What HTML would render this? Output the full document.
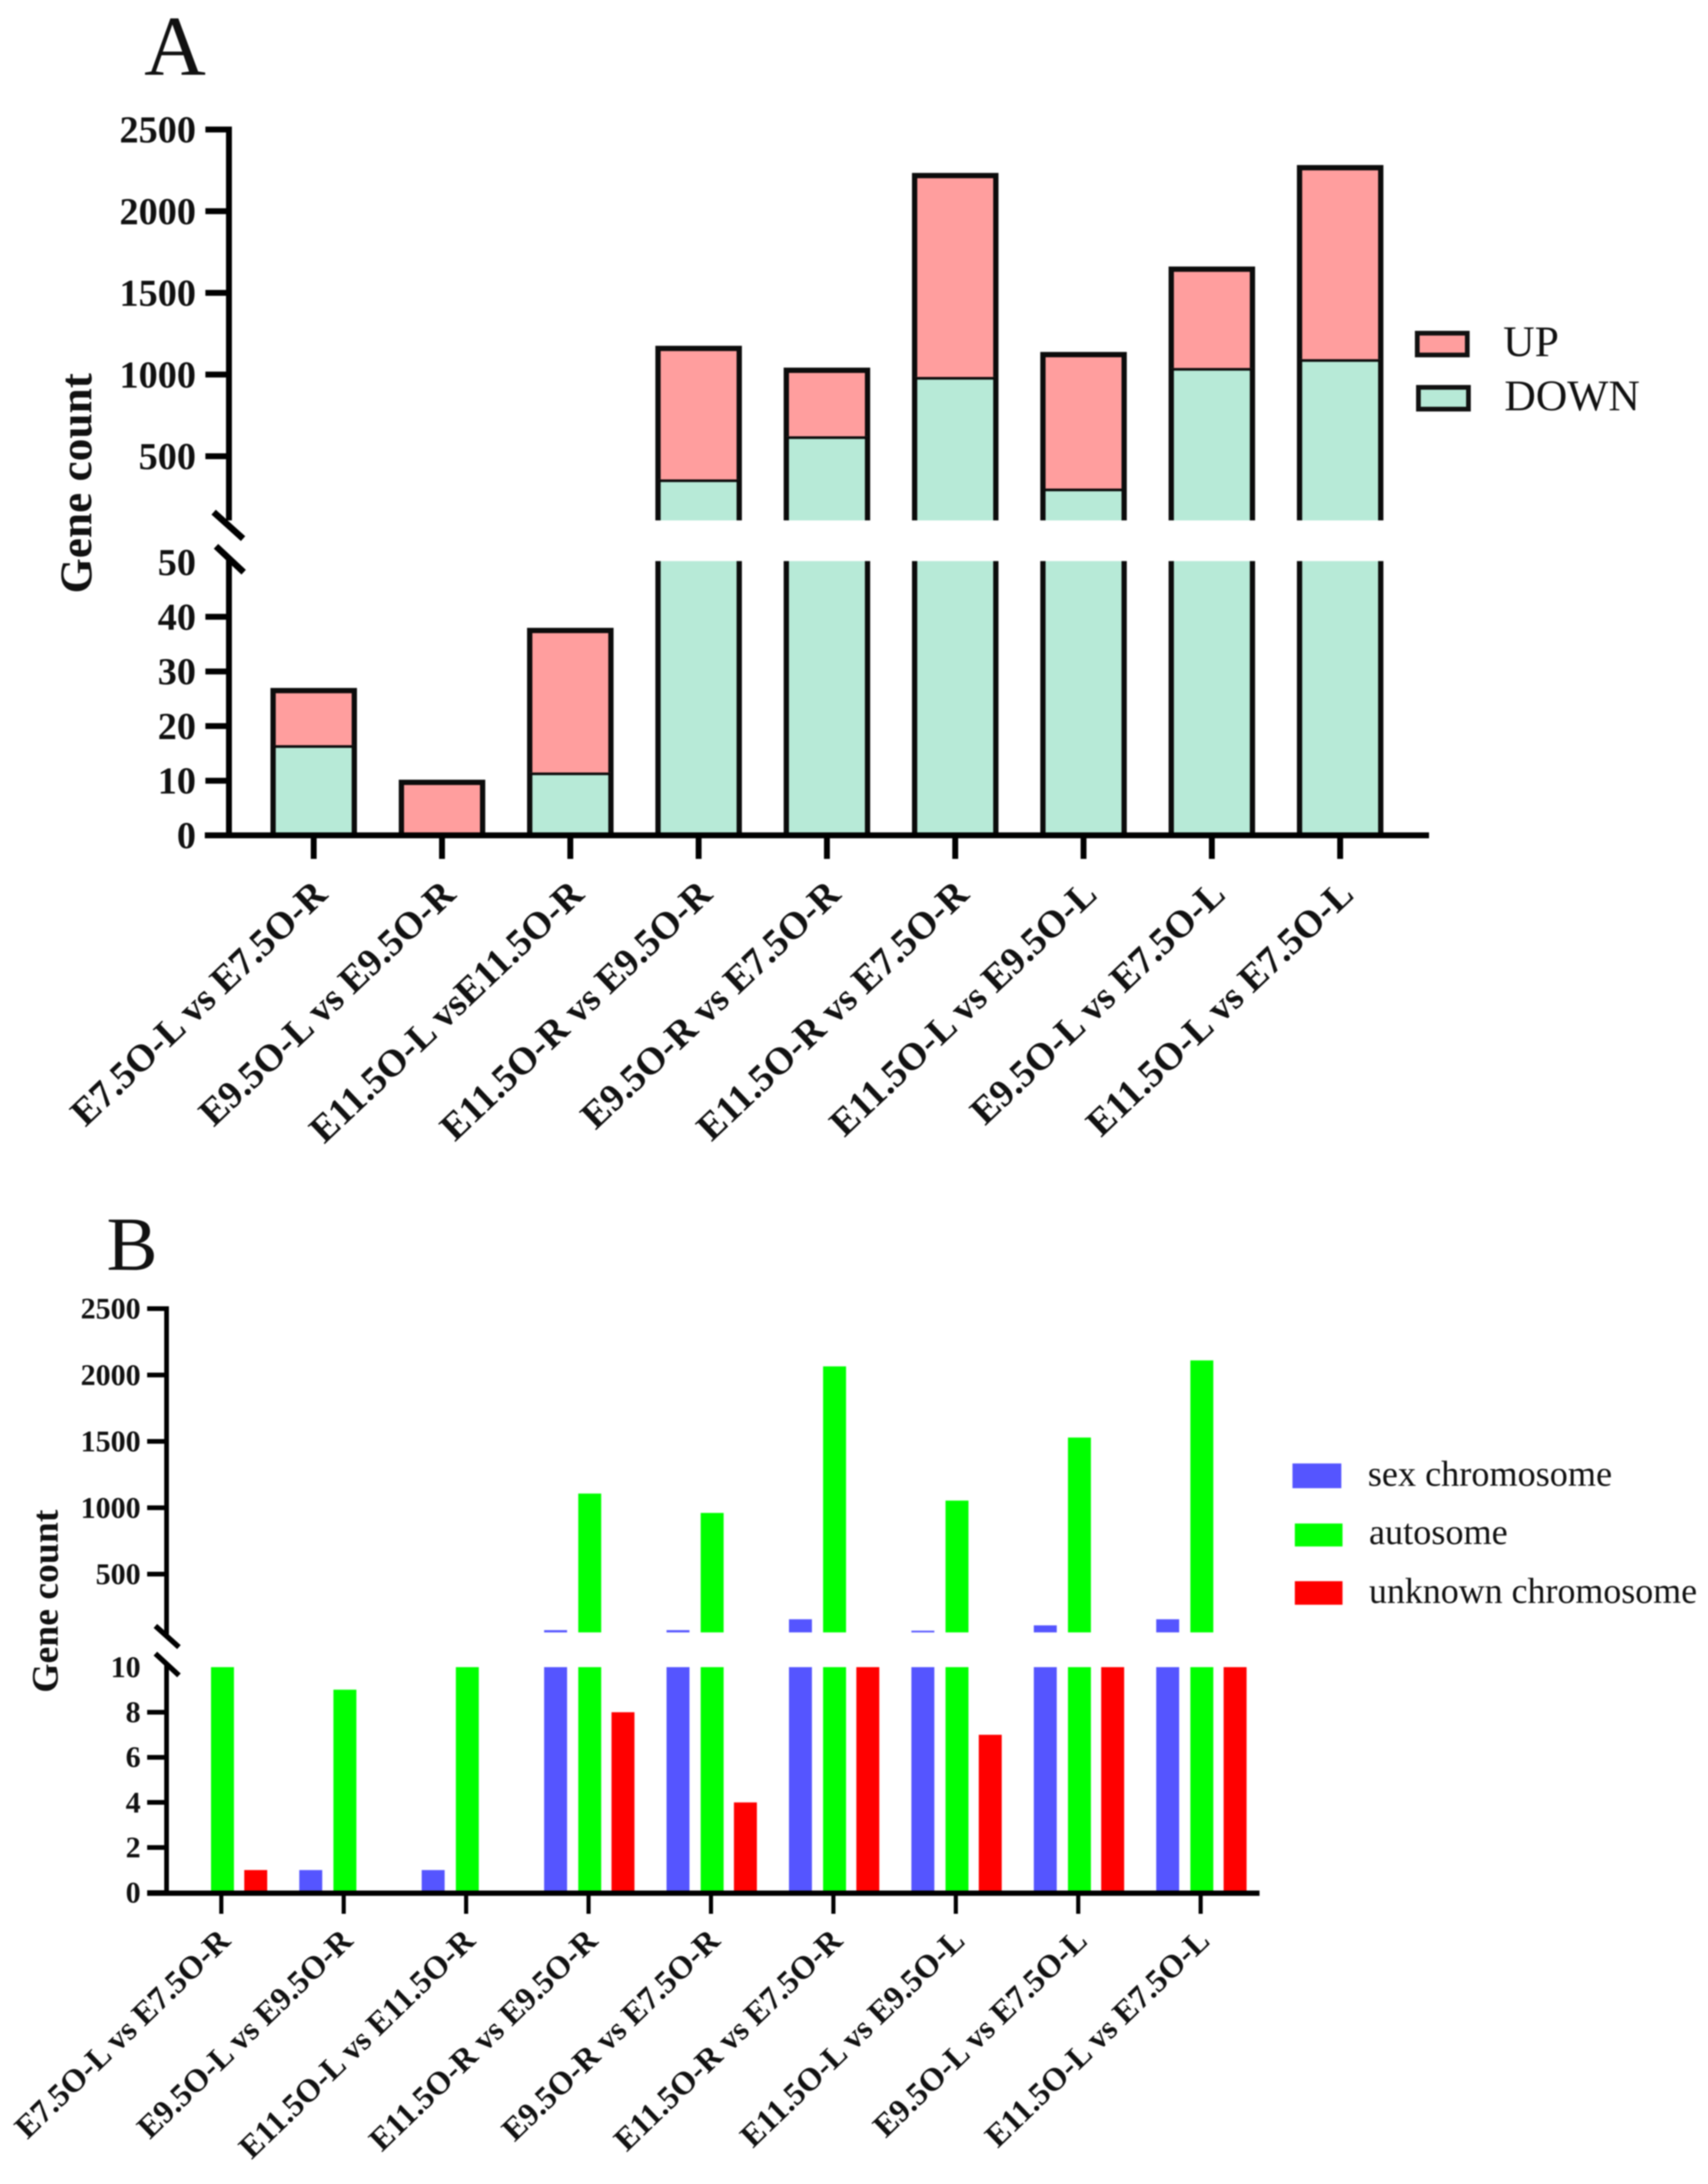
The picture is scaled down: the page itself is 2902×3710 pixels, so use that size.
<!DOCTYPE html>
<html>
<head>
<meta charset="utf-8">
<title>Gene count charts</title>
<style>
html,body{margin:0;padding:0;background:#fff;}
svg{display:block;filter:blur(1px);}
text{font-family:"Liberation Serif",serif;fill:#111;}
</style>
</head>
<body>
<svg id="fig" xmlns="http://www.w3.org/2000/svg" width="2902" height="3710" viewBox="0 0 2902 3710">
<rect width="2902" height="3710" fill="#fff"/>
<text x="245" y="127" font-size="145">A</text>
<text x="181" y="2157" font-size="130">B</text>
<text transform="translate(155 821) rotate(-90)" text-anchor="middle" font-size="77" font-weight="bold">Gene count</text>
<text transform="translate(98 2720) rotate(-90)" text-anchor="middle" font-size="64" font-weight="bold">Gene count</text>
<g>
<rect x="2408" y="566" width="85" height="37" fill="#FF9E9E" stroke="#111" stroke-width="8"/>
<text x="2554" y="605" font-size="74">UP</text>
<rect x="2410" y="658" width="85" height="37" fill="#B7EAD7" stroke="#111" stroke-width="8"/>
<text x="2556" y="697" font-size="74">DOWN</text>
</g>
<g>
<rect x="2196" y="2486" width="83" height="42" fill="#5555FF"/>
<text x="2324" y="2524" font-size="61.5">sex chromosome</text>
<rect x="2200" y="2588" width="81" height="39" fill="#00FF00"/>
<text x="2326" y="2623" font-size="61.5">autosome</text>
<rect x="2200" y="2686" width="81" height="40" fill="#FF0000"/>
<text x="2326" y="2723" font-size="61">unknown chromosome</text>
</g>
</svg>
<script>
// Panel A data
const categoriesA = ["E7.5O-L vs E7.5O-R","E9.5O-L vs E9.5O-R","E11.5O-L vsE11.5O-R","E11.5O-R vs E9.5O-R","E9.5O-R vs E7.5O-R","E11.5O-R vs E7.5O-R","E11.5O-L vs E9.5O-L","E9.5O-L vs E7.5O-L","E11.5O-L vs E7.5O-L"];
const downA = [16.5,0.5,11.5,358,622,985,302,1040,1094];
const upA = [10,9.2,26,802,404,1233,820,605,1172];
const upperTicksA = [500,1000,1500,2000,2500];
const lowerTicksA = [0,10,20,30,40,50];
// Panel B data
const categoriesB = ["E7.5O-L vs E7.5O-R","E9.5O-L vs E9.5O-R","E11.5O-L vs E11.5O-R","E11.5O-R vs E9.5O-R","E9.5O-R vs E7.5O-R","E11.5O-R vs E7.5O-R","E11.5O-L vs E9.5O-L","E9.5O-L vs E7.5O-L","E11.5O-L vs E7.5O-L"];
const sexB = [0,1,1,78,78,160,74,114,160];
const autoB = [26,9,37,1107,961,2065,1054,1529,2110];
const unknownB = [1,0,0,8,4,12,7,12,12];
const upperTicksB = [500,1000,1500,2000,2500];
const lowerTicksB = [0,2,4,6,8,10];

const svg = document.getElementById('fig');
const NS = 'http://www.w3.org/2000/svg';
function make(tag, attrs, parent){
  const e = document.createElementNS(NS, tag);
  for(const k in attrs) e.setAttribute(k, attrs[k]);
  (parent||svg).appendChild(e);
  return e;
}
function group(name){
  const g = make('g', {});
  
  
  return g;
}

/* ---------- Panel A axes ---------- */
const A = {x0:533, step:218, lowZero:1419, lowPerUnit:9.28, upRef:775, upPerUnit:0.2775, lowMax:50.2, upMin:107};
const yLowA = v => A.lowZero - v*A.lowPerUnit;
const yUpA = v => A.upRef - (v-500)*A.upPerUnit;
const xA = i => A.x0 + i*A.step;

const barsA = group('panel-a-bars');
const BW = 138, SW = 9;
function stackSegment(i, a, b, fill, name){
  const segs = [];
  if(a < A.lowMax) segs.push([yLowA(a), yLowA(Math.min(b,A.lowMax)), b<=A.lowMax]);
  if(b > A.upMin) segs.push([yUpA(Math.max(a,A.upMin)), yUpA(b), true]);
  segs.forEach(s=>{
    const left = xA(i)-BW/2, right = xA(i)+BW/2, yb = s[0], yt = s[1];
    const r = make('rect',{x:left,y:yt,width:BW,height:yb-yt,fill:fill},barsA);
    
    
    let d = 'M'+left+' '+yb+'V'+yt;
    if(s[2]) d = 'M'+left+' '+yb+'V'+yt+'H'+right+'V'+yb; else d += 'M'+right+' '+yb+'V'+yt;
    const p = make('path',{d:d,fill:'none',stroke:'#0c0c0c','stroke-width':SW,'stroke-linecap':'butt','stroke-linejoin':'miter'},barsA);
    
    
  });
}
categoriesA.forEach((c,i)=>{
  stackSegment(i, 0, downA[i], '#B7EAD7', 'bar-down-'+(i+1));
  stackSegment(i, downA[i], downA[i]+upA[i], '#FF9E9E', 'bar-up-'+(i+1));
});

const axisA = group('panel-a-axes');
const yAxUp = make('line',{x1:389,x2:389,y1:215,y2:884,stroke:'#000','stroke-width':10},axisA);


const yAxLo = make('line',{x1:389,x2:389,y1:950,y2:1424,stroke:'#000','stroke-width':10},axisA);


const xAxA = make('line',{x1:348,x2:2428,y1:1419,y2:1419,stroke:'#000','stroke-width':10},axisA);


const brA1 = make('line',{x1:363,y1:870,x2:413,y2:915,stroke:'#000','stroke-width':11},axisA);


const brA2 = make('line',{x1:367,y1:928,x2:414,y2:972,stroke:'#000','stroke-width':11},axisA);



function yTickA(v, y, drawTick){
  if(drawTick){
    const t = make('line',{x1:349,x2:389,y1:y,y2:y,stroke:'#000','stroke-width':10},axisA);
    
    
  }
  const l = make('text',{x:333,y:y+22,'text-anchor':'end','font-size':65,'font-weight':'bold'},axisA);
  l.textContent = v;
  
  
}
upperTicksA.forEach(v=>yTickA(v, yUpA(v), true));
lowerTicksA.forEach(v=>yTickA(v, yLowA(v), v!==50));
categoriesA.forEach((c,i)=>{
  const t = make('line',{x1:xA(i),x2:xA(i),y1:1419,y2:1459,stroke:'#000','stroke-width':10},axisA);
  
  
  const px = xA(i)+26, py = 1523;
  const l = make('text',{transform:'translate('+px+' '+py+') rotate(-43.5)','text-anchor':'end','font-size':65,'font-weight':'bold'},axisA);
  l.textContent = c;
  
  
});

/* ---------- Panel B axes ---------- */
const B = {x0:376, step:208, lowZero:3215, lowPerUnit:38.3, upRef:2674, upPerUnit:0.2255, lowMax:10, upMin:61, barW:39, off:57.5};
const yLowB = v => B.lowZero - v*B.lowPerUnit;
const yUpB = v => B.upRef - (v-500)*B.upPerUnit;
const xB = i => B.x0 + i*B.step;

const barsB = group('panel-b-bars');
function barB(i, offs, v, fill, name){
  if(v <= 0) return;
  const x = xB(i)+offs - B.barW/2;
  const lo = make('rect',{x:x,y:yLowB(Math.min(v,B.lowMax)),width:B.barW,height:yLowB(0)-yLowB(Math.min(v,B.lowMax)),fill:fill},barsB);
  
  
  if(v > B.upMin){
    const up = make('rect',{x:x,y:yUpB(v),width:B.barW,height:yUpB(B.upMin)-yUpB(v),fill:fill},barsB);
    
    
  }
}
categoriesB.forEach((c,i)=>{
  barB(i,-B.off+1.5,sexB[i],'#5555FF','bar-sex-chromosome-'+(i+1));
  barB(i,2,autoB[i],'#00FF00','bar-autosome-'+(i+1));
  barB(i,B.off+1,unknownB[i],'#FF0000','bar-unknown-chromosome-'+(i+1));
});

const axisB = group('panel-b-axes');
const yBxUp = make('line',{x1:283,x2:283,y1:2219,y2:2776,stroke:'#000','stroke-width':8},axisB);


const yBxLo = make('line',{x1:283,x2:283,y1:2825,y2:3217,stroke:'#000','stroke-width':8},axisB);


const xAxB = make('line',{x1:250,x2:2140,y1:3216,y2:3216,stroke:'#000','stroke-width':9},axisB);


const brB1 = make('line',{x1:264,y1:2762,x2:304,y2:2798,stroke:'#000','stroke-width':9},axisB);


const brB2 = make('line',{x1:264,y1:2809,x2:304,y2:2846,stroke:'#000','stroke-width':9},axisB);



function yTickB(v, y, drawTick){
  if(drawTick){
    const t = make('line',{x1:250,x2:283,y1:y,y2:y,stroke:'#000','stroke-width':8},axisB);
    
    
  }
  const l = make('text',{x:239,y:y+17,'text-anchor':'end','font-size':51,'font-weight':'bold'},axisB);
  l.textContent = v;
  
  
}
upperTicksB.forEach(v=>yTickB(v, yUpB(v), true));
lowerTicksB.forEach(v=>yTickB(v, yLowB(v), v!==10));
categoriesB.forEach((c,i)=>{
  const t = make('line',{x1:xB(i),x2:xB(i),y1:3216,y2:3251,stroke:'#000','stroke-width':7},axisB);
  
  
  const px = xB(i)+18, py = 3300;
  const l = make('text',{transform:'translate('+px+' '+py+') rotate(-44)','text-anchor':'end','font-size':55,'font-weight':'bold'},axisB);
  l.textContent = c;
  
  
});
</script>
</body>
</html>
